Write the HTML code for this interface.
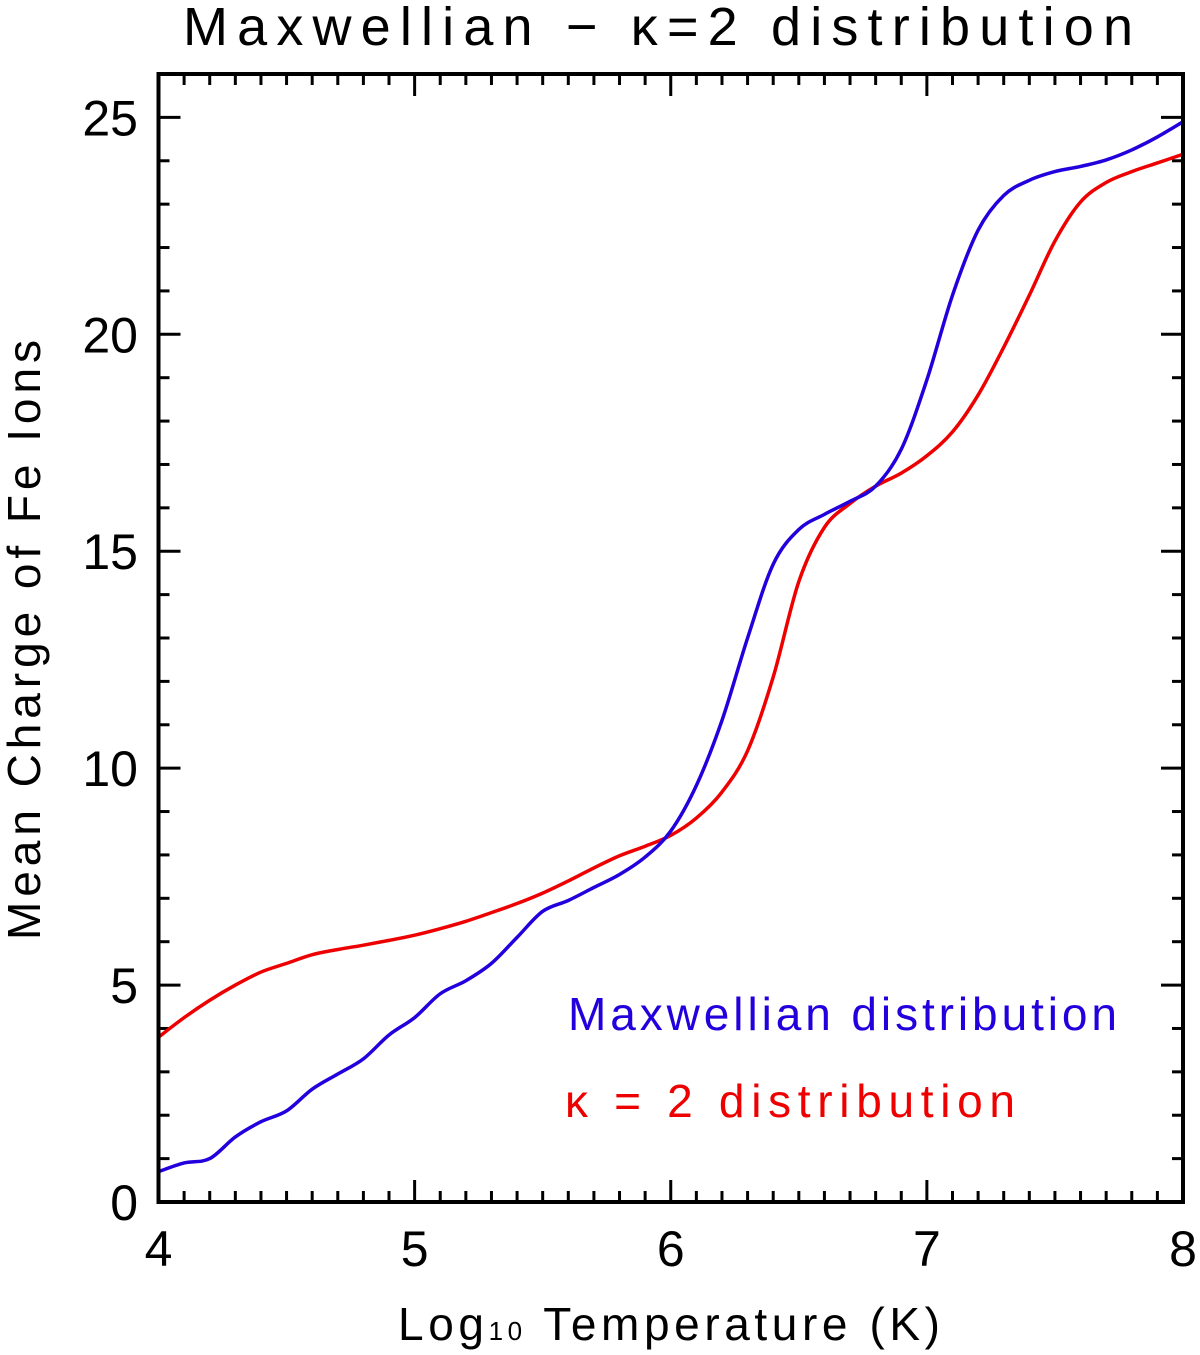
<!DOCTYPE html>
<html><head><meta charset="utf-8"><style>
html,body{margin:0;padding:0;background:#fff;}
svg{display:block;font-family:"Liberation Sans",sans-serif;}
</style></head><body>
<svg id="chart" width="1200" height="1355" viewBox="0 0 1200 1355" xmlns="http://www.w3.org/2000/svg">
<text x="183" y="45" font-size="54" textLength="950" lengthAdjust="spacing">Maxwellian − κ=2 distribution</text>
<g id="ticks"></g>
<g id="series"></g>
<rect x="158.5" y="74" width="1024.5" height="1128" fill="none" stroke="#000" stroke-width="4"/>
<text x="398" y="1340" font-size="46" textLength="542" lengthAdjust="spacing">Log<tspan font-size="26">10</tspan> Temperature (K)</text>
<text transform="translate(40,940) rotate(-90)" font-size="46" textLength="600" lengthAdjust="spacing">Mean Charge of Fe Ions</text>
<text x="568" y="1030" font-size="46" fill="#2200dd" textLength="549" lengthAdjust="spacing">Maxwellian distribution</text>
<text x="565" y="1117" font-size="46" fill="#ee0000" textLength="450" lengthAdjust="spacing">κ = 2 distribution</text>
</svg>
<script>
const xs = [4.0,4.1,4.2,4.3,4.4,4.5,4.6,4.7,4.8,4.9,5.0,5.1,5.2,5.3,5.4,5.5,5.6,5.7,5.8,5.9,6.0,6.1,6.2,6.3,6.4,6.5,6.6,6.7,6.8,6.9,7.0,7.1,7.2,7.3,7.4,7.5,7.6,7.7,7.8,7.9,8.0];
const maxwellian = [0.7,0.9,1.0,1.5,1.85,2.1,2.6,2.95,3.3,3.85,4.25,4.8,5.1,5.5,6.1,6.7,6.95,7.25,7.55,7.95,8.55,9.6,11.1,13.0,14.7,15.5,15.85,16.15,16.5,17.35,18.95,20.9,22.4,23.2,23.55,23.75,23.87,24.02,24.25,24.55,24.9];
const kappa2 = [3.8,4.25,4.65,5.0,5.3,5.5,5.7,5.82,5.92,6.03,6.15,6.3,6.47,6.67,6.88,7.12,7.4,7.7,7.98,8.2,8.45,8.85,9.45,10.4,12.1,14.3,15.55,16.1,16.5,16.8,17.2,17.75,18.6,19.7,20.9,22.15,23.05,23.5,23.75,23.95,24.15];
const xTickLabels = ["4","5","6","7","8"];
const yTickLabels = ["0","5","10","15","20","25"];
const X0=158.5,X1=1183,Y0=1202,Y1=74;
const xScale=v=>X0+(v-4)/(8-4)*(X1-X0);
const yScale=v=>Y0-(v-0)/(26-0)*(Y0-Y1);
const NS="http://www.w3.org/2000/svg";
const ticks=document.getElementById('ticks');
function line(x1,y1,x2,y2,name){
  const l=document.createElementNS(NS,'line');
  l.setAttribute('x1',x1);l.setAttribute('y1',y1);l.setAttribute('x2',x2);l.setAttribute('y2',y2);
  l.setAttribute('stroke','#000');l.setAttribute('stroke-width','3');
  
  
  ticks.appendChild(l);
}
for(let i=0;i<=40;i++){
  const v=4+i*0.1, x=xScale(v), len=(i%10===0)?22:11;
  line(x,Y0,x,Y0-len,'x-tick');
  line(x,Y1,x,Y1+len,'x-tick-top');
}
for(let i=0;i<=26;i++){
  const y=yScale(i), len=(i%5===0)?22:11;
  line(X0,y,X0+len,y,'y-tick');
  line(X1,y,X1-len,y,'y-tick-right');
}
xTickLabels.forEach(s=>{
  const t=document.createElementNS(NS,'text');
  t.setAttribute('x',xScale(+s));t.setAttribute('y',1266);
  t.setAttribute('text-anchor','middle');t.setAttribute('font-size','50');
  t.textContent=s;
  
  
  ticks.appendChild(t);
});
yTickLabels.forEach(s=>{
  const t=document.createElementNS(NS,'text');
  t.setAttribute('x',138);t.setAttribute('y',yScale(+s)+18);
  t.setAttribute('text-anchor','end');t.setAttribute('font-size','50');
  t.textContent=s;
  
  
  ticks.appendChild(t);
});
function pathFor(vals){
  const p=xs.map((x,i)=>[xScale(x),yScale(vals[i])]);
  let d='M'+p[0][0]+','+p[0][1];
  for(let i=0;i<p.length-1;i++){
    const a=p[Math.max(0,i-1)],b=p[i],c=p[i+1],e=p[Math.min(p.length-1,i+2)];
    const c1=[b[0]+(c[0]-a[0])/6,b[1]+(c[1]-a[1])/6];
    const c2=[c[0]-(e[0]-b[0])/6,c[1]-(e[1]-b[1])/6];
    d+='C'+c1[0]+','+c1[1]+' '+c2[0]+','+c2[1]+' '+c[0]+','+c[1];
  }
  return d;
}
const series=document.getElementById('series');
[[kappa2,'#ee0000','kappa2-line'],[maxwellian,'#2200dd','maxwellian-line']].forEach(([vals,col,name])=>{
  const p=document.createElementNS(NS,'path');
  p.setAttribute('d',pathFor(vals));
  p.setAttribute('fill','none');p.setAttribute('stroke',col);p.setAttribute('stroke-width','3.5');
  
  
  series.appendChild(p);
});
</script>
</body></html>
